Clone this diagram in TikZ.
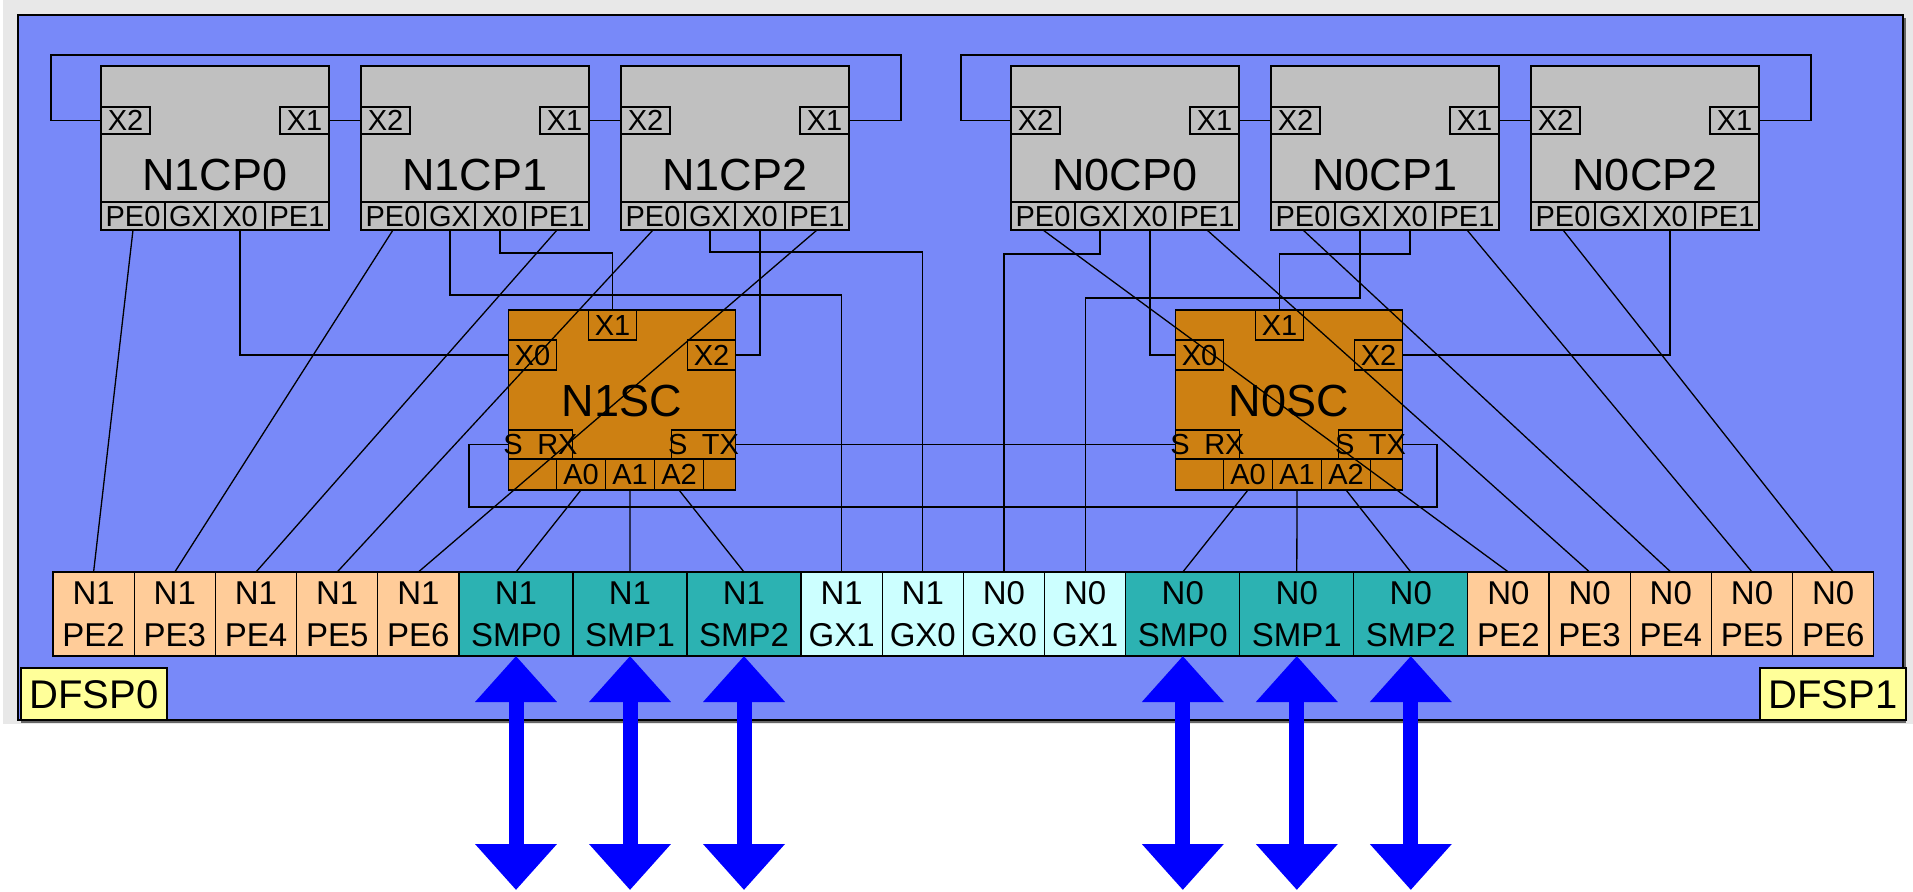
\documentclass[tikz,border=0pt]{standalone}
\usepackage{fontspec}
\setmainfont{Liberation Sans}
\usetikzlibrary{positioning, arrows.meta}

\definecolor{pagegrey}{RGB}{232,232,232}
\definecolor{frameblue}{RGB}{120,137,249}
\definecolor{cpgrey}{RGB}{192,192,192}
\definecolor{scorange}{RGB}{205,128,18}
\definecolor{pepeach}{RGB}{255,204,153}
\definecolor{smpteal}{RGB}{44,178,178}
\definecolor{gxcyan}{RGB}{204,255,255}
\definecolor{tagyellow}{RGB}{255,255,153}

\begin{document}
\begin{tikzpicture}[
    x=1pt, y=-1pt,
    cpbox/.style={rectangle, draw, fill=cpgrey, line width=1.6pt, outer sep=0pt, inner sep=0pt, minimum width=228pt, minimum height=164pt, font=\fontsize{45}{54}\selectfont, text height=84pt, text depth=0pt},
    scbox/.style={rectangle, draw, fill=scorange, line width=1.6pt, outer sep=0pt, inner sep=0pt, minimum width=227pt, minimum height=180pt, font=\fontsize{45}{54}\selectfont, text height=32.4pt, text depth=0pt},
    port/.style={rectangle, draw, line width=1.3pt, outer sep=0pt, inner sep=0pt, font=\fontsize{29}{35}\selectfont, text height=20.8pt, text depth=0pt},
    xport/.style={port, minimum width=49pt, minimum height=27pt},
    peport/.style={port, minimum width=64pt, minimum height=28pt},
    midport/.style={port, minimum width=50pt, minimum height=28pt},
    scport/.style={port, minimum width=48pt, minimum height=30pt},
    aport/.style={port, minimum width=49pt, minimum height=31pt},
    sport/.style={port, minimum width=64pt, minimum height=29pt},
    cell/.style={rectangle, draw, line width=1.3pt, outer sep=0pt, inner sep=0pt, minimum width=81.2pt, minimum height=84pt, align=center, font=\fontsize{33}{42}\selectfont},
    pecell/.style={cell, fill=pepeach},
    smpcell/.style={cell, fill=smpteal, minimum width=114pt},
    gxcell/.style={cell, fill=gxcyan},
    tagbox/.style={rectangle, draw, fill=tagyellow, line width=1.6pt, outer sep=0pt, inner sep=0pt, minimum width=146pt, minimum height=52pt, font=\fontsize{40}{48}\selectfont, text height=28.6pt, text depth=0pt},
    link/.style={line width=1.3pt},
    bus/.style={blue, line width=15pt, >={Triangle[length=46pt,width=79pt]}, <->}
]
\useasboundingbox (0,0) rectangle (1913,891);

% Frame
\fill[pagegrey] (3,0) rectangle (1913,724);
\fill[black!60] (21,18) rectangle (1906,723);
\draw[fill=frameblue, line width=1.6pt] (18,15) rectangle (1903,720);

% Control processors
\foreach \n/\lbl/\x in {n1cp0/N1CP0/101, n1cp1/N1CP1/361, n1cp2/N1CP2/621, n0cp0/N0CP0/1011, n0cp1/N0CP1/1271, n0cp2/N0CP2/1531} {
  \node[cpbox, anchor=north west] (\n) at (\x,66) {\lbl};
  \node[xport, anchor=north west] (\n-x2) at ([yshift=-41pt]\n.north west) {X2};
  \node[xport, anchor=north east] (\n-x1) at ([yshift=-41pt]\n.north east) {X1};
  \node[peport, anchor=south west] (\n-pe0) at (\n.south west) {PE0};
  \node[midport, anchor=south west] (\n-gx) at (\n-pe0.south east) {GX};
  \node[midport, anchor=south west] (\n-x0) at (\n-gx.south east) {X0};
  \node[peport, anchor=south west] (\n-pe1) at (\n-x0.south east) {PE1};
}

% Switch controllers
\foreach \n/\lbl/\x in {n1sc/N1SC/622, n0sc/N0SC/1289} {
  \node[scbox] (\n) at (\x,400) {\lbl};
  \node[scport, anchor=north west] (\n-x1) at ([xshift=80pt]\n.north west) {X1};
  \node[scport, anchor=north west] (\n-x0) at ([yshift=-30pt]\n.north west) {X0};
  \node[scport, anchor=north east] (\n-x2) at ([yshift=-30pt]\n.north east) {X2};
  \node[aport, minimum width=48pt, anchor=south west] (\n-e0) at (\n.south west) {};
  \node[aport, anchor=south west] (\n-a0) at (\n-e0.south east) {A0};
  \node[aport, anchor=south west] (\n-a1) at (\n-a0.south east) {A1};
  \node[aport, anchor=south west] (\n-a2) at (\n-a1.south east) {A2};
  \node[aport, minimum width=32pt, anchor=south west] (\n-e1) at (\n-a2.south east) {};
  \node[sport, anchor=south west] (\n-srx) at (\n-e0.north west) {\makebox[0pt]{S\enspace RX}};
  \node[sport, anchor=south east] (\n-stx) at (\n-e1.north east) {\makebox[0pt]{S\enspace TX}};
}

% Port cells
\node[pecell, anchor=north west] (n1pe2) at (53,572) {N1\\PE2};
\node[pecell, right=0pt of n1pe2] (n1pe3) {N1\\PE3};
\node[pecell, right=0pt of n1pe3] (n1pe4) {N1\\PE4};
\node[pecell, right=0pt of n1pe4] (n1pe5) {N1\\PE5};
\node[pecell, right=0pt of n1pe5] (n1pe6) {N1\\PE6};
\node[smpcell, right=0pt of n1pe6] (n1smp0) {N1\\SMP0};
\node[smpcell, right=0pt of n1smp0] (n1smp1) {N1\\SMP1};
\node[smpcell, right=0pt of n1smp1] (n1smp2) {N1\\SMP2};
\node[gxcell, right=0pt of n1smp2] (n1gx1) {N1\\GX1};
\node[gxcell, right=0pt of n1gx1] (n1gx0) {N1\\GX0};
\node[gxcell, right=0pt of n1gx0] (n0gx0) {N0\\GX0};
\node[gxcell, right=0pt of n0gx0] (n0gx1) {N0\\GX1};
\node[smpcell, right=0pt of n0gx1] (n0smp0) {N0\\SMP0};
\node[smpcell, right=0pt of n0smp0] (n0smp1) {N0\\SMP1};
\node[smpcell, right=0pt of n0smp1] (n0smp2) {N0\\SMP2};
\node[pecell, right=0pt of n0smp2] (n0pe2) {N0\\PE2};
\node[pecell, right=0pt of n0pe2] (n0pe3) {N0\\PE3};
\node[pecell, right=0pt of n0pe3] (n0pe4) {N0\\PE4};
\node[pecell, right=0pt of n0pe4] (n0pe5) {N0\\PE5};
\node[pecell, right=0pt of n0pe5] (n0pe6) {N0\\PE6};

% Labels
\node[tagbox, anchor=south west] (dfsp0) at (21,720) {DFSP0};
\node[tagbox, anchor=south east] (dfsp1) at (1906,720) {DFSP1};

% Loop corners
\coordinate (n1loopr) at (901,55);
\coordinate (n1loopl) at (51,55);
\coordinate (n0loopr) at (1811,55);
\coordinate (n0loopl) at (961,55);
\coordinate (sloopr) at (1437,507);
\coordinate (sloopl) at (469,507);

% N1 links
\draw[link] (n1cp0-x1) -- (n1cp1-x2);
\draw[link] (n1cp1-x1) -- (n1cp2-x2);
\draw[link] (n1cp2-x1.east) -| (n1loopr) -- (n1loopl) |- (n1cp0-x2.west);
\draw[link] (n1cp0-pe0.south) -- (n1pe2.north);
\draw[link] (n1cp1-pe0.south) -- (n1pe3.north);
\draw[link] (n1cp1-pe1.south) -- (n1pe4.north);
\draw[link] (n1cp2-pe0.south) -- (n1pe5.north);
\draw[link] (n1cp2-pe1.south) -- (n1pe6.north);
\draw[link] (n1cp0-x0.south) |- (n1sc-x0.west);
\draw[link] (n1cp2-x0.south) |- (n1sc-x2.east);
\draw[link] (n1cp1-x0.south) -- ++(0,23) -| (n1sc-x1.north);
\draw[link] (n1cp1-gx.south) -- ++(0,65) -| (n1gx1.north);
\draw[link] (n1cp2-gx.south) -- ++(0,22) -| (n1gx0.north);
\draw[link] (n1sc-a0.south) -- (n1smp0.north);
\draw[link] (n1sc-a1.south) -- (n1smp1.north);
\draw[link] (n1sc-a2.south) -- (n1smp2.north);

% N0 links
\draw[link] (n0cp0-x1) -- (n0cp1-x2);
\draw[link] (n0cp1-x1) -- (n0cp2-x2);
\draw[link] (n0cp2-x1.east) -| (n0loopr) -- (n0loopl) |- (n0cp0-x2.west);
\draw[link] (n0cp0-pe0.south) -- (n0pe2.north);
\draw[link] (n0cp0-pe1.south) -- (n0pe3.north);
\draw[link] (n0cp1-pe0.south) -- (n0pe4.north);
\draw[link] (n0cp1-pe1.south) -- (n0pe5.north);
\draw[link] (n0cp2-pe0.south) -- (n0pe6.north);
\draw[link] (n0cp0-x0.south) |- (n0sc-x0.west);
\draw[link] (n0cp2-x0.south) |- (n0sc-x2.east);
\draw[link] (n0cp1-x0.south) -- ++(0,24) -| (n0sc-x1.north);
\draw[link] (n0cp0-gx.south) -- ++(0,24) -| (n0gx0.north);
\draw[link] (n0cp1-gx.south) -- ++(0,68) -| (n0gx1.north);
\draw[link] (n0sc-a0.south) -- (n0smp0.north);
\draw[link] (n0sc-a1.south) -- (n0smp1.north);
\draw[link] (n0sc-a2.south) -- (n0smp2.north);

% Switch ring
\draw[link] (n1sc-stx.east) -- (n0sc-srx.west);
\draw[link] (n0sc-stx.east) -| (sloopr) -- (sloopl) |- (n1sc-srx.west);

% External SMP links
\draw[bus] (n1smp0.south) -- ++(0,234);
\draw[bus] (n1smp1.south) -- ++(0,234);
\draw[bus] (n1smp2.south) -- ++(0,234);
\draw[bus] (n0smp0.south) -- ++(0,234);
\draw[bus] (n0smp1.south) -- ++(0,234);
\draw[bus] (n0smp2.south) -- ++(0,234);

\end{tikzpicture}
\end{document}
